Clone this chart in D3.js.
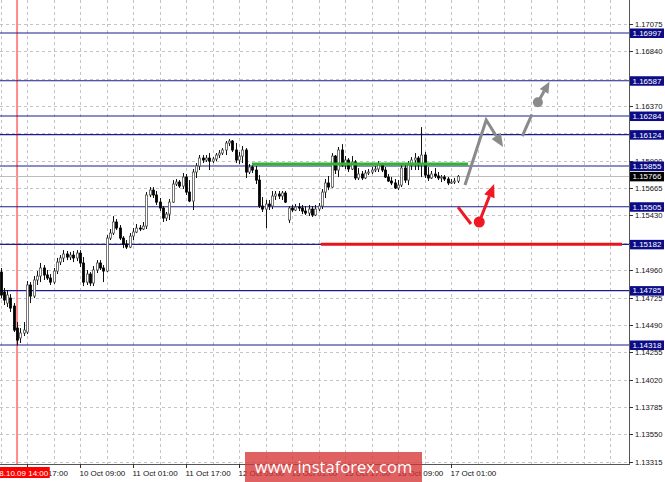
<!DOCTYPE html>
<html><head><meta charset="utf-8">
<script src="https://cdn.jsdelivr.net/npm/d3@7/dist/d3.min.js"></script>
<style>html,body{margin:0;padding:0;background:#fff;}svg{display:block;}</style>
</head><body>
<script>
// ---------- DATA ----------
const firstIndex = -8; // candle index of first bar (index 0 = 9 Oct 17:00, H1 bars)
const opens = [1.14944,1.14773,1.14678,1.14721,1.14652,1.14463,1.14378,1.14421,1.14429,1.14833,1.14738,1.14876,1.14910,1.14979,1.14919,1.14893,1.14858,1.14953,1.15030,1.15065,1.15099,1.15073,1.15090,1.15065,1.15107,1.15022,1.14858,1.14927,1.14850,1.14962,1.15022,1.14979,1.14953,1.15236,1.15279,1.15374,1.15322,1.15236,1.15185,1.15159,1.15253,1.15288,1.15322,1.15314,1.15339,1.15606,1.15648,1.15606,1.15545,1.15494,1.15408,1.15442,1.15545,1.15700,1.15717,1.15683,1.15760,1.15631,1.15554,1.15803,1.15855,1.15923,1.15906,1.15923,1.15897,1.15915,1.15949,1.15966,1.15992,1.16052,1.16069,1.15992,1.15906,1.15940,1.15992,1.15803,1.15846,1.15820,1.15734,1.15511,1.15485,1.15528,1.15511,1.15597,1.15614,1.15597,1.15623,1.15391,1.15494,1.15477,1.15502,1.15494,1.15468,1.15451,1.15485,1.15434,1.15485,1.15511,1.15631,1.15709,1.15674,1.15940,1.15820,1.15992,1.15863,1.15906,1.15829,1.15889,1.15752,1.15786,1.15752,1.15794,1.15803,1.15820,1.15829,1.15863,1.15820,1.15760,1.15726,1.15709,1.15666,1.15691,1.15837,1.15734,1.15863,1.15906,1.15923,1.15863,1.15949,1.15777,1.15752,1.15786,1.15769,1.15752,1.15760,1.15743,1.15709,1.15717,1.15726];
const highs = [1.14979,1.14807,1.14790,1.14755,1.14678,1.14515,1.14463,1.14515,1.14867,1.14858,1.14910,1.14953,1.15022,1.15004,1.14962,1.14927,1.14979,1.15065,1.15090,1.15133,1.15125,1.15116,1.15125,1.15133,1.15133,1.15073,1.14962,1.14944,1.14996,1.15047,1.15047,1.15004,1.15262,1.15314,1.15425,1.15399,1.15348,1.15253,1.15219,1.15279,1.15322,1.15357,1.15348,1.15374,1.15631,1.15674,1.15674,1.15640,1.15580,1.15511,1.15460,1.15571,1.15734,1.15743,1.15734,1.15794,1.15786,1.15734,1.15829,1.15880,1.15949,1.15949,1.15949,1.15966,1.15932,1.15966,1.15992,1.16009,1.16069,1.16086,1.16078,1.16052,1.15975,1.16026,1.16009,1.15872,1.15872,1.15855,1.15777,1.15588,1.15563,1.15563,1.15640,1.15640,1.15640,1.15640,1.15640,1.15511,1.15520,1.15528,1.15537,1.15520,1.15511,1.15520,1.15511,1.15520,1.15537,1.15657,1.15743,1.15769,1.15966,1.15949,1.16018,1.16043,1.15940,1.15923,1.15940,1.15906,1.15837,1.15812,1.15820,1.15829,1.15846,1.15855,1.15897,1.15880,1.15846,1.15786,1.15760,1.15743,1.15734,1.15880,1.15880,1.15897,1.15932,1.15966,1.15940,1.16189,1.15975,1.15846,1.15812,1.15837,1.15803,1.15777,1.15777,1.15760,1.15743,1.15752,1.15777];
const lows = [1.14721,1.14661,1.14644,1.14601,1.14429,1.14317,1.14335,1.14395,1.14412,1.14678,1.14721,1.14833,1.14858,1.14876,1.14876,1.14833,1.14841,1.14927,1.15004,1.15030,1.15047,1.15047,1.15030,1.15039,1.14987,1.14824,1.14833,1.14824,1.14824,1.14936,1.14962,1.14858,1.14944,1.15219,1.15262,1.15305,1.15219,1.15150,1.15142,1.15150,1.15219,1.15279,1.15296,1.15305,1.15314,1.15588,1.15580,1.15520,1.15468,1.15374,1.15382,1.15391,1.15537,1.15683,1.15666,1.15657,1.15606,1.15545,1.15477,1.15752,1.15820,1.15880,1.15889,1.15820,1.15880,1.15897,1.15923,1.15949,1.15949,1.16026,1.15975,1.15880,1.15872,1.15880,1.15752,1.15786,1.15794,1.15700,1.15494,1.15460,1.15322,1.15477,1.15485,1.15563,1.15571,1.15563,1.15537,1.15365,1.15460,1.15468,1.15468,1.15442,1.15434,1.15425,1.15417,1.15425,1.15468,1.15485,1.15580,1.15648,1.15666,1.15786,1.15760,1.15846,1.15829,1.15803,1.15820,1.15734,1.15734,1.15734,1.15743,1.15777,1.15786,1.15803,1.15803,1.15803,1.15752,1.15717,1.15691,1.15657,1.15648,1.15674,1.15709,1.15691,1.15820,1.15820,1.15820,1.15760,1.15752,1.15726,1.15743,1.15752,1.15734,1.15717,1.15726,1.15691,1.15700,1.15700,1.15709];
const closes = [1.14747,1.14704,1.14747,1.14635,1.14446,1.14360,1.14421,1.14446,1.14833,1.14738,1.14876,1.14910,1.14979,1.14919,1.14893,1.14858,1.14953,1.15030,1.15065,1.15099,1.15073,1.15090,1.15065,1.15107,1.15022,1.14858,1.14927,1.14850,1.14962,1.15022,1.14979,1.14953,1.15236,1.15279,1.15374,1.15322,1.15236,1.15185,1.15159,1.15253,1.15288,1.15322,1.15314,1.15339,1.15606,1.15648,1.15606,1.15545,1.15494,1.15408,1.15442,1.15545,1.15700,1.15717,1.15683,1.15760,1.15631,1.15554,1.15803,1.15855,1.15923,1.15906,1.15923,1.15897,1.15915,1.15949,1.15966,1.15992,1.16052,1.16069,1.15992,1.15906,1.15940,1.15992,1.15803,1.15846,1.15820,1.15734,1.15511,1.15485,1.15528,1.15511,1.15597,1.15614,1.15597,1.15623,1.15545,1.15494,1.15477,1.15502,1.15494,1.15468,1.15451,1.15485,1.15434,1.15485,1.15511,1.15631,1.15709,1.15674,1.15940,1.15820,1.15992,1.15863,1.15906,1.15829,1.15889,1.15752,1.15786,1.15752,1.15794,1.15803,1.15820,1.15829,1.15863,1.15820,1.15760,1.15726,1.15709,1.15666,1.15691,1.15837,1.15734,1.15863,1.15906,1.15923,1.15863,1.15949,1.15777,1.15752,1.15786,1.15769,1.15752,1.15760,1.15743,1.15709,1.15717,1.15726,1.15766];

const priceTicks = ["1.13315","1.13550","1.13785","1.14020","1.14255","1.14490","1.14725","1.14960","1.15195","1.15430","1.15665","1.15900","1.16135","1.16370","1.16605","1.16840","1.17075"];
const levelPrices = [1.16997,1.16587,1.16284,1.16124,1.15855,1.15505,1.15182,1.14785,1.14318];
const currentPrice = 1.15766;

const timeLabelIdx = [0,16,32,48,64,80,96,112,128];
const timeLabels = ["9 Oct 17:00","10 Oct 09:00","11 Oct 01:00","11 Oct 17:00","12 Oct 09:00","15 Oct 01:00","15 Oct 17:00","16 Oct 09:00","17 Oct 01:00"];
const markerIdx = -3, markerLabel = "2018.10.09 14:00";

// annotations (bar index, price)
const greenLine = [[67.9,1.15872],[133.1,1.15872]];
const redLine = [[88.75,1.15182],[179.6,1.15182]];
const grayPath1 = [[132.2,1.15691],[138.6,1.16250],[143.7,1.16018]];
const grayPath2 = [[149.5,1.16112],[152.4,1.16298]];
const grayDot = [154.2,1.16402], grayTip = [157.7,1.16578];
const redPath1 = [[130.1,1.15502],[134.0,1.15357]];
const redDot = [136.5,1.15374], redTip = [141.0,1.15700];

// ---------- CHART ----------
const W = 665, H = 482, plotR = 629, plotB = 464;
const svg = d3.select("body").append("svg").attr("width", W).attr("height", H)
  .style("font-family", "'Liberation Sans', Arial, sans-serif");

const x = d3.scaleLinear().domain([-8, 181.7]).range([0.5, plotR]);
const y = d3.scaleLinear().domain([1.13315, 1.17075]).range([461.8, 23.9]);

svg.append("rect").attr("width", W).attr("height", H).attr("fill", "#fff");

const defs = svg.append("defs");
defs.append("clipPath").attr("id", "plot").append("rect").attr("x", 0).attr("y", 0).attr("width", plotR).attr("height", plotB);

const plot = svg.append("g").attr("clip-path", "url(#plot)");

// grid
const vGrid = d3.range(-8, 182, 8);
plot.selectAll(".vg").data(vGrid).enter().append("line")
  .attr("x1", d => Math.round(x(d)) + 0.5).attr("x2", d => Math.round(x(d)) + 0.5)
  .attr("y1", 0).attr("y2", plotB).attr("stroke", "#c4c4c4").attr("stroke-dasharray", "3,3");
plot.selectAll(".hg").data(priceTicks).enter().append("line")
  .attr("x1", 0).attr("x2", plotR)
  .attr("y1", d => Math.round(y(+d)) + 0.5).attr("y2", d => Math.round(y(+d)) + 0.5)
  .attr("stroke", "#c4c4c4").attr("stroke-dasharray", "3,3");

// marker vertical line
plot.append("line").attr("x1", x(markerIdx)).attr("x2", x(markerIdx)).attr("y1", 0).attr("y2", plotB)
  .attr("stroke", "#ff8a8a").attr("stroke-width", 2);

// current price line
plot.append("line").attr("x1", 0).attr("x2", plotR)
  .attr("y1", Math.round(y(currentPrice)) + 0.5).attr("y2", Math.round(y(currentPrice)) + 0.5)
  .attr("stroke", "#bdbdbd");

// level lines
plot.selectAll(".lvl").data(levelPrices).enter().append("line")
  .attr("x1", 0).attr("x2", plotR)
  .attr("y1", d => y(d)).attr("y2", d => y(d))
  .attr("stroke", "#1c1c8c").attr("stroke-width", 1.2);

// candles
const bars = opens.map((o, i) => ({i: firstIndex + i, o, h: highs[i], l: lows[i], c: closes[i]}));
const cg = plot.append("g");
cg.selectAll(".wick").data(bars).enter().append("line")
  .attr("x1", d => Math.round(x(d.i)) + 0.5).attr("x2", d => Math.round(x(d.i)) + 0.5)
  .attr("y1", d => y(d.h)).attr("y2", d => y(d.l)).attr("stroke", "#111").attr("stroke-width", 1);
cg.selectAll(".body").data(bars).enter().append("rect")
  .attr("x", d => Math.round(x(d.i)) - 0.5).attr("width", 2)
  .attr("y", d => y(Math.max(d.o, d.c)))
  .attr("height", d => Math.max(1, Math.abs(y(d.o) - y(d.c))))
  .attr("fill", d => d.c >= d.o ? "#fff" : "#000")
  .attr("stroke", d => d.c >= d.o ? "#555" : "#000").attr("stroke-width", 0.8);

// green and red lines
const line = d3.line().x(d => x(d[0])).y(d => y(d[1]));
plot.append("path").attr("d", line(greenLine)).attr("stroke", "#2fb52f").attr("stroke-width", 3).attr("fill", "none");
plot.append("path").attr("d", line(redLine)).attr("stroke", "#e8141c").attr("stroke-width", 3).attr("fill", "none");

// arrows
function arrowHead(g, from, to, color, len, wid) {
  const x1 = x(from[0]), y1 = y(from[1]), x2 = x(to[0]), y2 = y(to[1]);
  const a = Math.atan2(y2 - y1, x2 - x1);
  const bx = x2 - len * Math.cos(a), by = y2 - len * Math.sin(a);
  const px = -Math.sin(a) * wid / 2, py = Math.cos(a) * wid / 2;
  g.append("path").attr("d", `M${x2},${y2}L${bx + px},${by + py}L${bx - px},${by - py}Z`).attr("fill", color);
  return [bx, by];
}
const ag = svg.append("g");
// gray
{
  const p = grayPath1;
  const base = (() => { const g = ag.append("g"); return arrowHead(g, p[1], p[2], "#8a8a8a", 13, 11); })();
  ag.append("path").attr("d", `M${x(p[0][0])},${y(p[0][1])}L${x(p[1][0])},${y(p[1][1])}L${base[0]},${base[1]}`)
    .attr("stroke", "#8a8a8a").attr("stroke-width", 3).attr("fill", "none").attr("stroke-linejoin", "miter");
  ag.append("path").attr("d", line(grayPath2)).attr("stroke", "#8a8a8a").attr("stroke-width", 3).attr("fill", "none");
  ag.append("circle").attr("cx", x(grayDot[0])).attr("cy", y(grayDot[1])).attr("r", 5).attr("fill", "#8a8a8a");
  const b2 = arrowHead(ag, grayDot, grayTip, "#8a8a8a", 11, 10);
  ag.append("line").attr("x1", x(grayDot[0])).attr("y1", y(grayDot[1])).attr("x2", b2[0]).attr("y2", b2[1])
    .attr("stroke", "#8a8a8a").attr("stroke-width", 3);
}
// red
{
  ag.append("path").attr("d", line(redPath1)).attr("stroke", "#f01822").attr("stroke-width", 3).attr("fill", "none");
  ag.append("circle").attr("cx", x(redDot[0])).attr("cy", y(redDot[1])).attr("r", 5.5).attr("fill", "#f01822");
  const b = arrowHead(ag, redDot, redTip, "#f01822", 13, 11);
  ag.append("line").attr("x1", x(redDot[0])).attr("y1", y(redDot[1])).attr("x2", b[0]).attr("y2", b[1])
    .attr("stroke", "#f01822").attr("stroke-width", 3);
}

// axes lines
svg.append("line").attr("x1", plotR + 0.5).attr("x2", plotR + 0.5).attr("y1", 0).attr("y2", plotB + 1)
  .attr("stroke", "#555");
svg.append("line").attr("x1", 0).attr("x2", plotR + 1).attr("y1", plotB + 0.5).attr("y2", plotB + 0.5)
  .attr("stroke", "#555");

// price ticks
const yt = svg.append("g");
priceTicks.forEach(t => {
  const yy = Math.round(y(+t)) + 0.5;
  yt.append("line").attr("x1", plotR).attr("x2", plotR + 4).attr("y1", yy).attr("y2", yy).attr("stroke", "#333");
  yt.append("text").attr("x", 635).attr("y", yy).attr("dy", "0.35em").attr("font-size", 7.6)
    .attr("fill", "#111").text(t);
});

// level labels
levelPrices.forEach(p => {
  const yy = y(p);
  yt.append("rect").attr("x", 630).attr("y", yy - 4.5).attr("width", 34).attr("height", 9.5).attr("fill", "#0c0c86");
  yt.append("text").attr("x", 632.5).attr("y", yy).attr("dy", "0.36em").attr("font-size", 8)
    .attr("fill", "#fff").text(p.toFixed(5));
});
{
  const yy = y(currentPrice);
  yt.append("rect").attr("x", 630).attr("y", yy - 4.5).attr("width", 34).attr("height", 9.5).attr("fill", "#000");
  yt.append("text").attr("x", 632.5).attr("y", yy).attr("dy", "0.36em").attr("font-size", 8)
    .attr("fill", "#fff").text(currentPrice.toFixed(5));
}

// time labels
const xt = svg.append("g");
timeLabelIdx.forEach((k, i) => {
  const xx = Math.round(x(k)) + 0.5;
  xt.append("line").attr("x1", xx).attr("x2", xx).attr("y1", plotB).attr("y2", plotB + 4).attr("stroke", "#333");
  xt.append("text").attr("x", xx - 1).attr("y", 476).attr("font-size", 8).attr("fill", "#111").text(timeLabels[i]);
});
{
  const xx = x(markerIdx);
  const t = xt.append("text").attr("x", xx).attr("y", 476).attr("font-size", 8).attr("text-anchor", "middle")
    .attr("fill", "#fff").text(markerLabel);
  const bb = t.node().getBBox();
  xt.insert("rect", "text:last-child").attr("x", bb.x - 1).attr("y", 467).attr("width", bb.width + 2).attr("height", 11).attr("fill", "#f00");
  t.raise();
}

// watermark
svg.append("rect").attr("x", 245).attr("y", 452).attr("width", 177).attr("height", 30).attr("fill", "rgba(214,52,52,0.78)");
svg.append("text").attr("x", 333.5).attr("y", 473).attr("text-anchor", "middle")
  .style("font-family", "'Open Sans', sans-serif").attr("font-size", 16.5).attr("fill", "#fff").text("www.instaforex.com");
</script>
</body></html>
